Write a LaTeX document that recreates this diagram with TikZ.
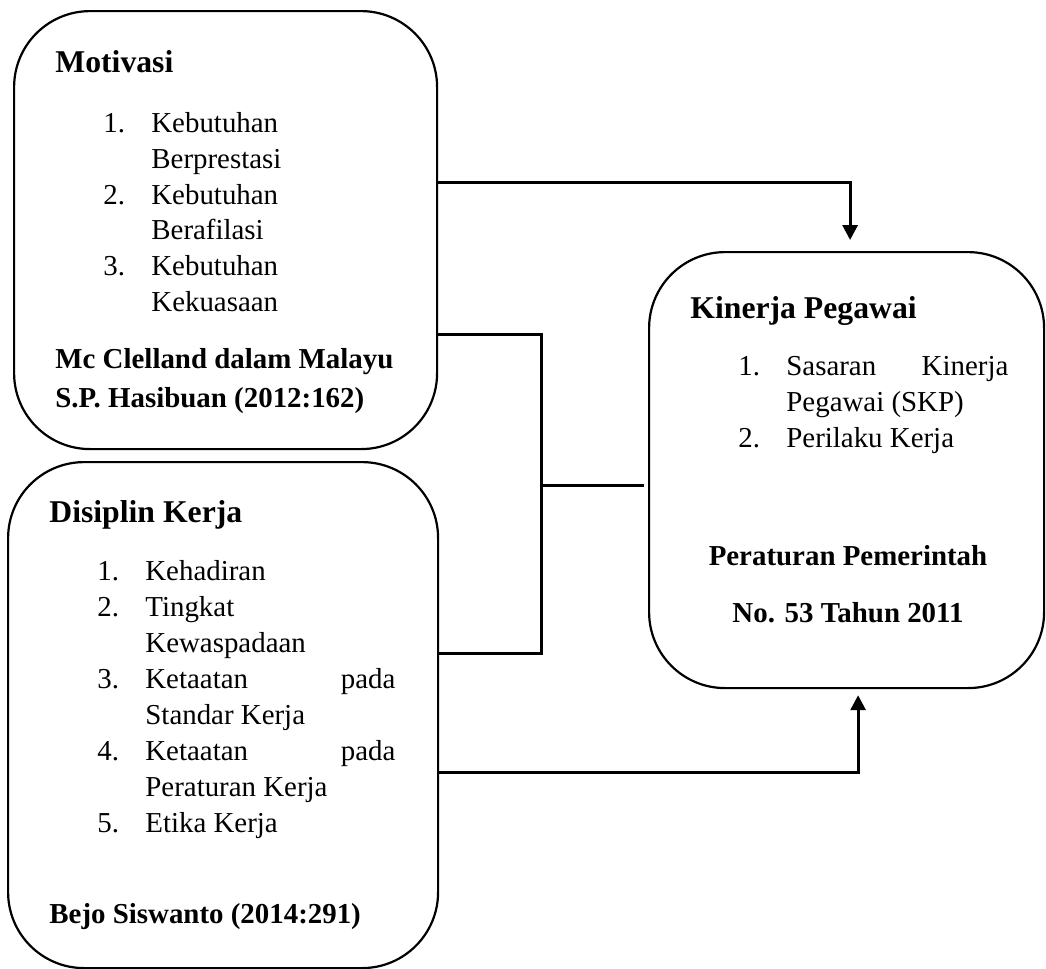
\documentclass[tikz,border=0pt]{standalone}
\usepackage{fontspec}
\setmainfont{Liberation Serif}
\usetikzlibrary{arrows.meta}
\tikzset{
  card/.style={draw, rounded corners=38pt, line width=1.1pt, anchor=north west, inner sep=0pt},
  link/.style={line width=1.5pt},
  flow/.style={link, -{Triangle[length=7.5pt,width=7.5pt]}},
  head/.style={font=\bfseries\fontsize{15.85}{19}\selectfont, anchor=base west, inner sep=0pt},
  src/.style={font=\bfseries\fontsize{14.45}{19.5}\selectfont, inner sep=0pt},
  items/.style={font=\fontsize{14.45}{18}\selectfont, anchor=base west, inner sep=0pt},
}
\newcommand\itemlist[2]{\begin{tabular}[t]{@{}p{24pt}@{}p{#1}@{}}#2\end{tabular}}

\begin{document}
\begin{tikzpicture}[x=0.5pt,y=-0.5pt]
  \useasboundingbox (0,0) rectangle (1046,969);
  % boxes
  \node[card, minimum width=211.5pt, minimum height=219pt] (mot) at (13,10) {};
  \node[card, minimum width=215pt, minimum height=253pt] (dis) at (7,461) {};
  \node[card, minimum width=197.5pt, minimum height=218pt] (kin) at (648,251) {};
  % motivasi
  \node[head] (motT) at (55,72) {Motivasi};
  \node[items] (motL) at (103,132) {\itemlist{120pt}{1. & Kebutuhan\\ & Berprestasi\\
    2. & Kebutuhan\\ & Berafilasi\\ 3. & Kebutuhan\\ & Kekuasaan}};
  % last line sits on the base
  \node[src, anchor=base west, align=left] (motS) at (55,407)
    {Mc Clelland dalam Malayu\\S.P. Hasibuan (2012:162)};
  % disiplin kerja
  \node[head] (disT) at (49,522) {Disiplin Kerja};
  \node[items] (disL) at (97,580) {\itemlist{125pt}{1. & Kehadiran\\ 2. & Tingkat\\
    & Kewaspadaan\\ 3. & Ketaatan\hfill pada\\ & Standar Kerja\\
    4. & Ketaatan\hfill pada\\ & Peraturan Kerja\\ 5. & Etika Kerja}};
  \node[src, anchor=base west] (disS) at (49,923) {Bejo Siswanto (2014:291)};
  % kinerja pegawai
  \node[head] (kinT) at (690,318) {Kinerja Pegawai};
  \node[items] (kinL) at (738,375) {\itemlist{111pt}{1. & Sasaran\hfill Kinerja\\
    & Pegawai (SKP)\\ 2. & Perilaku Kerja}};
  \node[src, anchor=base] (kinS1) at (848,565) {Peraturan Pemerintah};
  \node[src, anchor=base] (kinS2) at (848,622) {No. 53 Tahun 2011};
  % connectors
  \coordinate (jn) at (541,485);
  \draw[flow, shorten >=5.5pt] ([yshift=24pt]mot.east) -| ([xshift=1.75pt]kin.north);
  \draw[link] ([yshift=-52pt]mot.east) -| (jn) |- ([yshift=31pt]dis.east);
  \draw[link, shorten >=2pt] (jn) -- (jn -| kin.west);
  \draw[flow, shorten >=3pt] ([yshift=-28.5pt]dis.east) -| ([xshift=5.75pt]kin.south);
\end{tikzpicture}
\end{document}
